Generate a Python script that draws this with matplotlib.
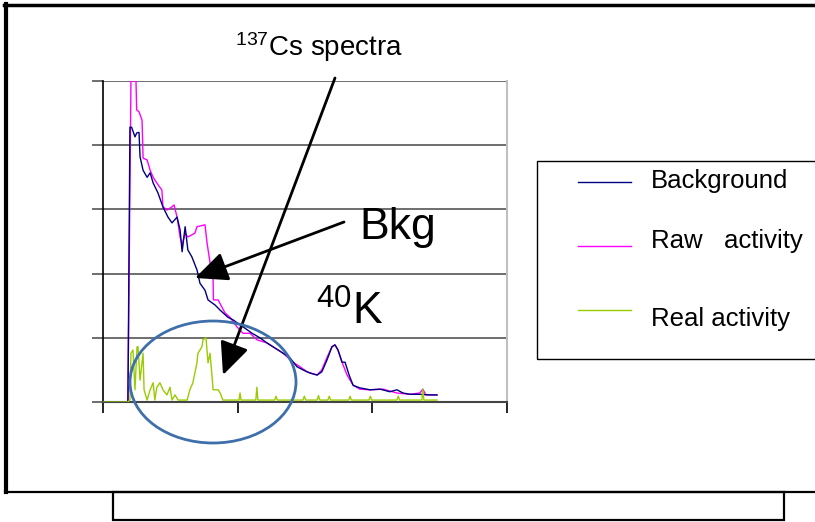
import matplotlib
matplotlib.use("Agg")
import matplotlib.pyplot as plt
from matplotlib.patches import Ellipse, Rectangle
from matplotlib.lines import Line2D

plt.rcParams['font.family'] = ['Liberation Sans', 'DejaVu Sans']
plt.rcParams['mathtext.fontset'] = 'custom'
plt.rcParams['mathtext.rm'] = 'Liberation Sans'
plt.rcParams['mathtext.it'] = 'Liberation Sans'

# ---------------- data (channel, counts) ----------------
bkg_ch = [0, 74, 80, 85, 95, 100, 107, 110, 119, 131, 140, 149, 163, 178, 193, 205, 220, 229,
          235, 244, 252, 264, 279, 288, 303, 312, 333, 348, 371, 386, 416, 443, 466, 487, 511,
          535, 555, 576, 594, 615, 636, 650, 665, 680, 689, 698, 710, 719, 731, 743, 763, 793,
          823, 852, 873, 891, 912, 941, 971, 992]
bkg_val = [0, 0, 428, 428, 413, 419, 420, 382, 361, 350, 357, 341, 326, 304, 288, 279, 288, 268,
           234, 273, 237, 226, 206, 185, 174, 159, 151, 143, 132, 128, 117, 107, 100, 92, 84,
           76, 69, 55, 50, 45, 42, 47, 65, 86, 89, 81, 62, 62, 42, 26, 22, 19,
           20, 16, 19, 14, 12, 12, 11, 11]

raw_ch = [0, 74, 83, 98, 100, 107, 116, 119, 131, 140, 149, 160, 175, 178, 190, 205, 211, 220,
          229, 235, 244, 252, 273, 279, 303, 309, 318, 327, 328, 342, 353, 362, 377, 398, 416,
          437, 457, 487, 535, 564, 585, 606, 636, 650, 665, 680, 689, 698, 710, 725, 743, 763,
          793, 832, 873, 912, 941, 950, 959, 992]
raw_val = [0, 0, 500, 500, 455, 452, 439, 380, 377, 361, 350, 341, 330, 304, 299, 304, 307, 288,
           257, 245, 263, 257, 263, 273, 276, 248, 217, 190, 159, 159, 148, 139, 132, 117, 107,
           107, 97, 92, 76, 62, 55, 47, 42, 50, 69, 86, 89, 81, 62, 42, 26, 20,
           19, 20, 14, 12, 14, 20, 11, 11]

real_ch = [0, 74, 80, 83, 89, 95, 101, 104, 110, 119, 122, 131, 140, 149, 154, 160, 169, 178,
           190, 199, 205, 214, 223, 250, 258, 267, 279, 282, 294, 297, 306, 312, 318, 324, 327,
           342, 348, 356, 404, 407, 410, 454, 457, 460, 510, 514, 518, 594, 598, 602, 636, 640,
           644, 668, 672, 676, 730, 734, 738, 790, 794, 798, 873, 877, 881, 947, 950, 953, 988, 992]
real_val = [0, 0, 3, 76, 81, 19, 86, 86, 34, 76, 19, 3, 19, 30, 3, 23, 30, 19,
            11, 23, 3, 11, 3, 3, 19, 30, 61, 76, 86, 97, 100, 61, 76, 39, 19,
            19, 14, 3, 3, 14, 3, 3, 23, 3, 3, 9, 3, 3, 9, 3, 3, 10,
            3, 3, 9, 3, 3, 9, 3, 3, 9, 3, 3, 9, 3, 3, 20, 3, 3, 3]

x_ticks = [0, 400, 800, 1200]
y_ticks = [0, 100, 200, 300, 400, 500]

series_labels = ["Background", "Raw   activity", "Real activity"]
series_colors = ["#000080", "#FF00FF", "#99CC00"]

# ---------------- figure ----------------
W, H = 815, 522
fig = plt.figure(figsize=(W / 100, H / 100), dpi=100)


def fx(px):
    return px / W


def fy(py):
    return 1 - py / H


ax = fig.add_axes([fx(103), fy(402), fx(507) - fx(103), fy(81) - fy(402)])
ax.plot(bkg_ch, bkg_val, color=series_colors[0], lw=1.0, zorder=3)
ax.plot(raw_ch, raw_val, color=series_colors[1], lw=1.0, zorder=2)
ax.plot(real_ch, real_val, color=series_colors[2], lw=1.0, zorder=4)
ax.set_xlim(0, 1200)
ax.set_ylim(0, 500)
ax.set_xticks(x_ticks)
ax.set_yticks(y_ticks)
ax.set_xticklabels([])
ax.set_yticklabels([])
ax.tick_params(axis='x', direction='out', length=8, width=1.2, color='black')
ax.tick_params(axis='y', direction='out', length=8, width=1.2, color='#555555')
ax.grid(axis='y', color='#555555', lw=1.2)
ax.set_axisbelow(True)
ax.spines['top'].set_visible(False)
ax.spines['right'].set_color('#c0c0c0')
ax.spines['right'].set_linewidth(1.5)
ax.spines['left'].set_color('black')
ax.spines['left'].set_linewidth(1.2)
ax.spines['bottom'].set_color('#444444')
ax.spines['bottom'].set_linewidth(1.5)
ax.set_facecolor('none')

# ---------------- outer frame ----------------
fig.add_artist(Line2D([fx(4), fx(815)], [fy(5), fy(5)], color='black', lw=2.5))
fig.add_artist(Line2D([fx(6), fx(6)], [fy(4), fy(492)], color='black', lw=3.0))
fig.add_artist(Line2D([fx(5), fx(815)], [fy(492), fy(492)], color='black', lw=1.6))
fig.add_artist(Rectangle((fx(113), fy(520)), fx(784) - fx(113), fy(492) - fy(520),
                         fill=False, ec='black', lw=1.6))

# ---------------- legend (drawn box) ----------------
fig.add_artist(Rectangle((fx(537), fy(359)), fx(830) - fx(537), fy(161) - fy(359),
                         fill=False, ec='black', lw=1.0, clip_on=False))
for lab, col, ly, ty in zip(series_labels, series_colors, [182, 246, 310], [181, 241, 319]):
    fig.add_artist(Line2D([fx(578), fx(631)], [fy(ly), fy(ly)], color=col, lw=1.0))
    fig.text(fx(651), fy(ty), lab, fontsize=18.5, va='center', ha='left')

# ---------------- annotations ----------------
fig.text(fx(319), fy(47), r"$^{137}$Cs spectra", fontsize=20, ha='center', va='center')
fig.text(fx(398), fy(227), "Bkg", fontsize=32, ha='center', va='center')
fig.text(fx(350), fy(312), r"$^{40}$K", fontsize=32, ha='center', va='center')

ax.annotate("", xy=(223, H - 375), xycoords='figure pixels',
            xytext=(335, H - 78), textcoords='figure pixels',
            arrowprops=dict(arrowstyle='-|>,head_length=1.0,head_width=0.45',
                            mutation_scale=20, color='black', lw=2.0,
                            shrinkA=0, shrinkB=0), annotation_clip=False)
ax.annotate("", xy=(195, H - 278), xycoords='figure pixels',
            xytext=(344, H - 222), textcoords='figure pixels',
            arrowprops=dict(arrowstyle='-|>,head_length=1.0,head_width=0.45',
                            mutation_scale=20, color='black', lw=2.0,
                            shrinkA=0, shrinkB=0), annotation_clip=False)

fig.add_artist(Ellipse((fx(213), fy(382)), fx(166), 122 / H, fill=False,
                       ec='#3F6FAA', lw=2.0))

fig.savefig("out.png", dpi=100)
